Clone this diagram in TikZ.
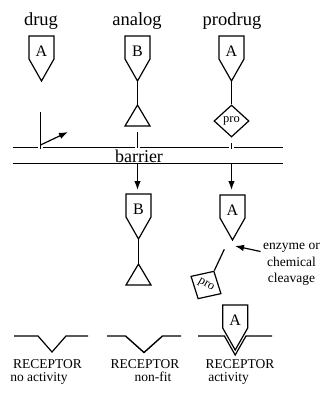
\documentclass[tikz,border=0pt]{standalone}
\usepackage{fontspec}
\setmainfont{Liberation Serif}
\usetikzlibrary{arrows.meta,shapes.geometric}
\begin{document}
\begin{tikzpicture}[x=1pt,y=-1pt,line width=1.2pt,line join=miter,
  toplbl/.style={font=\fontsize{18.5}{20}\selectfont,inner sep=0,anchor=base},
  sml/.style={font=\fontsize{13.5}{16}\selectfont,inner sep=0,anchor=base},
  arr/.style={-{Latex[length=9pt,width=6.5pt]}},
  memb/.style={line width=1pt},
  penta/.pic={
    \draw (-12.5,0) -- (12.5,0) -- (12.5,23) -- (0,45) -- (-12.5,23) -- cycle;
    \node[font=\fontsize{16}{16}\selectfont,inner sep=0,anchor=base] (-lbl) at (0,20.5) {#1};
    \coordinate (-top) at (0,0);
    \coordinate (-tip) at (0,45);
  },
  trig/.pic={
    \draw (0,0) -- (12.5,21) -- (-12.5,21) -- cycle;
    \coordinate (-apex) at (0,0);
  },
  prodiam/.style={diamond,draw,aspect=1.1,minimum width=35pt,minimum height=32pt,inner sep=0,
    font=\fontsize{12.5}{12.5}\selectfont}]
\useasboundingbox (0,0) rectangle (322,396);

% labels
\node[toplbl] (tdrug) at (41,26) {drug};
\node[toplbl] (tanalog) at (137,26) {analog};
\node[toplbl] (tprodrug) at (232,26) {prodrug};

% drug
\pic (pd) at (41.5,36) {penta=A};
\coordinate (dtop) at (40.5,112);
\coordinate (dbot) at (40.5,149);
\coordinate (dfork) at (40.5,145);
\coordinate (dend) at (68,132);
\draw (dtop) -- (dbot);
\draw[arr] (dfork) -- (dend);

% analog
\pic (pa) at (137.5,36) {penta=B};
\pic (ta) at (137.5,105) {trig};
\draw (pa-tip) -- (ta-apex);
\coordinate (astart) at (137.5,132);
\coordinate (aend) at (137.5,148);
\draw (astart) -- (aend);

% prodrug
\pic (pp) at (231.5,36) {penta=A};
\node[prodiam] (dia) at (231.5,121) {pro};
\draw (pp-tip) -- (dia.north);
\coordinate (ptick1) at (231.5,143);
\coordinate (ptick2) at (231.5,149);
\draw (ptick1) -- (ptick2);

% barrier
\coordinate (u0) at (12.7,147.7);
\coordinate (u1) at (38.2,147.7);
\coordinate (u2) at (42.8,147.7);
\coordinate (u3) at (135.3,147.7);
\coordinate (u4) at (139.7,147.7);
\coordinate (u5) at (229,147.7);
\coordinate (u6) at (234,147.7);
\coordinate (u7) at (282.7,147.7);
\draw[memb] (u0) -- (u1) (u2) -- (u3) (u4) -- (u5) (u6) -- (u7);
\coordinate (l0) at (12.7,163.5);
\coordinate (l1) at (282.7,163.5);
\draw[memb] (l0) -- (l1);
\node[font=\fontsize{18}{18}\selectfont,inner sep=0,anchor=base] (tbarrier) at (139,162) {barrier};

% after barrier: analog
\coordinate (aa) at (137.5,163.5);
\pic (pb) at (138.5,194) {penta=B};
\coordinate (aatip) at (137.5,190);
\draw[arr] (aa) -- (aatip);
\pic (tb) at (138.5,264) {trig};
\draw (pb-tip) -- (tb-apex);

% after barrier: prodrug
\coordinate (pa2) at (231.5,163.5);
\pic (pq) at (232.5,195) {penta=A};
\coordinate (pa2tip) at (231.5,190);
\draw[arr] (pa2) -- (pa2tip);
\coordinate (cut) at (224.3,249.3);
\node[prodiam,rotate=-30] (dcut) at (206,285) {pro};
\draw (cut) -- (dcut.north);
\coordinate (cleave) at (235,246);
\node[sml] (t1) at (291.5,249) {enzyme or};
\node[sml] (t2) at (291.5,266) {chemical};
\node[sml] (t3) at (291.5,282) {cleavage};
\coordinate (etail) at (260.5,251.5);
\draw[arr] (etail) -- (cleave);

% receptors
\coordinate (r1a) at (14,336);
\coordinate (r1b) at (38,336);
\coordinate (r1c) at (52,352);
\coordinate (r1d) at (66,336);
\coordinate (r1e) at (88,336);
\draw (r1a) -- (r1b) -- (r1c) -- (r1d) -- (r1e);
\coordinate (r2a) at (107,336);
\coordinate (r2b) at (125.5,336);
\coordinate (r2c) at (144,352.5);
\coordinate (r2d) at (162.5,336);
\coordinate (r2e) at (181,336);
\draw[line width=1.4pt] (r2a) -- (r2b) -- (r2c) -- (r2d) -- (r2e);
\pic (pr) at (235.2,305) {penta=A};
\coordinate (r3a) at (198,336);
\coordinate (r3b) at (224.4,336);
\coordinate (r3c) at (235.2,355);
\coordinate (r3d) at (246,336);
\coordinate (r3e) at (272,336);
\draw (r3a) -- (r3b) -- (r3c) -- (r3d) -- (r3e);

\node[sml] (rc1) at (47.5,368) {RECEPTOR};
\node[sml] (rs1) at (39,381.5) {no activity};
\node[sml] (rc2) at (145,368) {RECEPTOR};
\node[sml] (rs2) at (153,381.5) {non-fit};
\node[sml] (rc3) at (240,368) {RECEPTOR};
\node[sml] (rs3) at (228.5,381.5) {activity};
\end{tikzpicture}
\end{document}
